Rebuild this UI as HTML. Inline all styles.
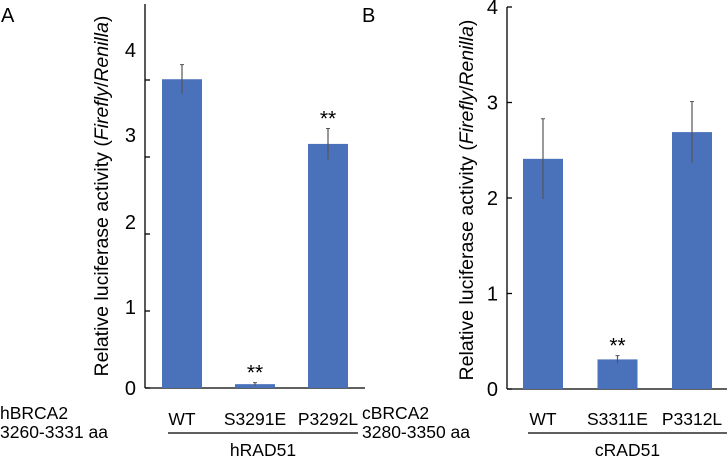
<!DOCTYPE html>
<html><head><meta charset="utf-8"><style>
body{margin:0;background:#fff}
svg{display:block;font-family:"Liberation Sans",sans-serif}
</style></head><body>
<svg id="c" width="728" height="458" viewBox="0 0 728 458">
<text x="1" y="22" font-size="20">A</text>
<text x="362" y="22" font-size="20">B</text>
<g id="pa"></g>
<g id="pb"></g>
</svg>
<script>
const catsA=["WT","S3291E","P3292L"];
const valsA=[4.01,0.05,3.17];
const errA=[0.19,0.02,0.2];
const sigA=["","**","**"];
const tickValsA=[0,1,2,3,4];
const tickLabelsA=["0","1","2","3","4"];
const catsB=["WT","S3311E","P3312L"];
const valsB=[2.41,0.31,2.69];
const errB=[0.42,0.04,0.32];
const sigB=["","**",""];
const tickValsB=[0,1,2,3,4];
const tickLabelsB=["0","1","2","3","4"];
const NS="http://www.w3.org/2000/svg";
function mk(p,t,a,txt){const e=document.createElementNS(NS,t);for(const k in a)e.setAttribute(k,a[k]);if(txt!==undefined)e.textContent=txt;p.appendChild(e);return e;}
function panel(g,o,cats,vals,errs,sig,tv,tl){
  const y=v=>o.y0-v*o.unit;
  const ax=mk(g,'line',{x1:o.ax,y1:o.top,x2:o.ax,y2:o.y0,stroke:'#000','stroke-width':1.3});
  
  
  const bx=mk(g,'line',{x1:o.ax,y1:o.y0,x2:o.axEnd,y2:o.y0,stroke:'#000','stroke-width':1.3});
  
  
  tv.forEach((v,i)=>{
    const t=mk(g,'line',{x1:o.ax,y1:y(v),x2:o.ax+5,y2:y(v),stroke:'#000','stroke-width':1.3});
    
    
    const ly=o.labelY?o.labelY(v):y(v);
    const l=mk(g,'text',{x:o.ax-9,y:ly+7,'font-size':20,'text-anchor':'end'},tl[i]);
    
    
  });
  cats.forEach((c,i)=>{
    const x=o.bx0+i*o.step;
    const r=mk(g,'rect',{x:x,y:y(vals[i]),width:o.bw,height:o.y0-y(vals[i]),fill:'#4a72bb'});
    
    
    const cx=x+o.bw/2;
    const e=mk(g,'line',{x1:cx,y1:y(vals[i]+errs[i]),x2:cx,y2:y(vals[i]-errs[i]),stroke:'#555','stroke-width':1.2});
    
    
    mk(g,'line',{x1:cx-2,y1:y(vals[i]+errs[i]),x2:cx+2,y2:y(vals[i]+errs[i]),stroke:'#555'});
    if(sig[i]){const s=mk(g,'text',{x:cx,y:y(vals[i]+errs[i])-3,'font-size':21,'text-anchor':'middle'},sig[i]);
      
      }
    const cl=mk(g,'text',{x:cx,y:425,'font-size':17.5,'text-anchor':'middle'},c);
    
    
  });
  const u=mk(g,'line',{x1:o.ulx1,y1:433,x2:o.ulx2,y2:433,stroke:'#000','stroke-width':1.2});
  
  
  const gl=mk(g,'text',{x:(o.ulx1+o.ulx2)/2,y:456,'font-size':17.5,'text-anchor':'middle'},o.group);
  
  
  const l1=mk(g,'text',{x:o.lx,y:419,'font-size':17.5},o.l1);
  
  
  const l2=mk(g,'text',{x:o.lx,y:438,'font-size':17.5},o.l2);
  
  
  const yt=mk(g,'text',{transform:`translate(${o.tx},${o.ty}) rotate(-90)`,'font-size':19.5,'text-anchor':'middle'});
  
  
  yt.innerHTML='Relative luciferase activity (<tspan font-style="italic">Firefly</tspan>/<tspan font-style="italic">Renilla</tspan>)';
}
panel(document.getElementById('pa'),{ax:145,axEnd:365,top:4,y0:388,unit:77,bx0:162,bw:40,step:73,
  labelY:v=>[388,307,222,135,50][v],ulx1:168,ulx2:358,group:'hRAD51',lx:0,l1:'hBRCA2',l2:'3260-3331 aa',tx:108,ty:196},
  catsA,valsA,errA,sigA,tickValsA,tickLabelsA);
panel(document.getElementById('pb'),{ax:507,axEnd:727,top:7,y0:389,unit:95.5,bx0:523,bw:40,step:74.5,
  ulx1:528,ulx2:727,group:'cRAD51',lx:362,l1:'cBRCA2',l2:'3280-3350 aa',tx:473,ty:200},
  catsB,valsB,errB,sigB,tickValsB,tickLabelsB);
</script>
</body></html>
